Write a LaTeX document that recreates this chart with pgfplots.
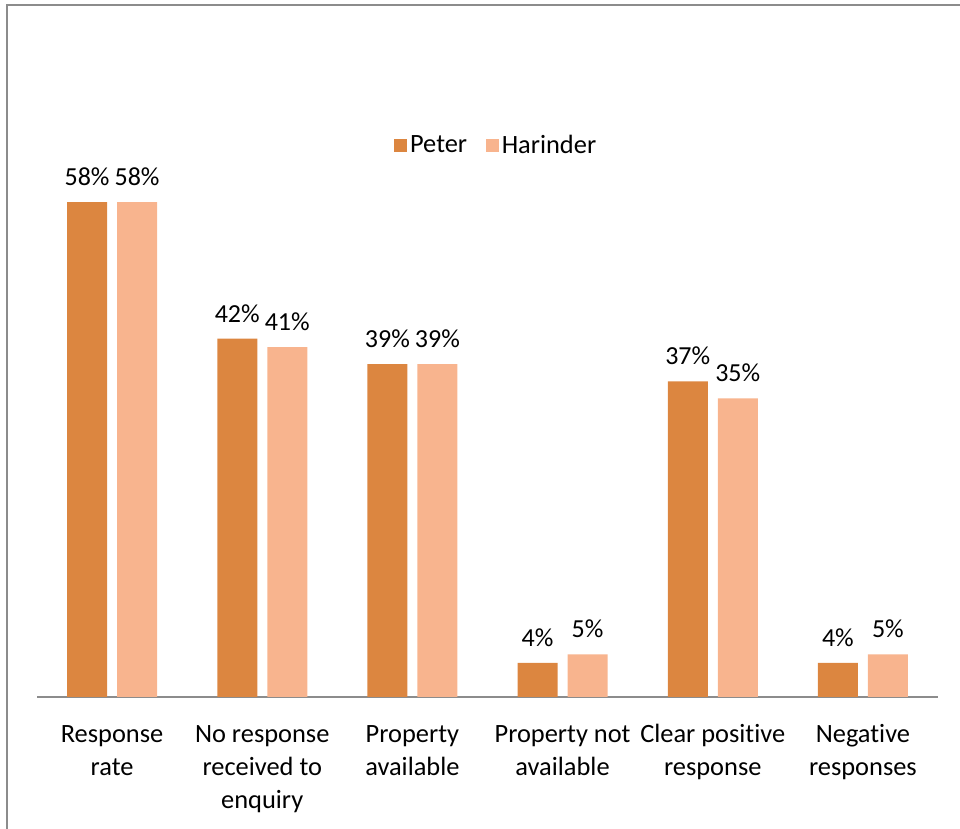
\documentclass[border=0pt]{standalone}
\usepackage{pgfplots}
\pgfplotsset{compat=1.18}
\usepackage{fontspec}
\setmainfont[Ligatures=NoCommon]{Carlito}
\definecolor{peter}{HTML}{DC8640}
\definecolor{harinder}{HTML}{F8B48E}
\definecolor{frame}{HTML}{8C8C8C}
\begin{document}
\begin{tikzpicture}[x=1pt,y=1pt]
\useasboundingbox (0,0) rectangle (720,621);
\draw[color=frame, line width=1.5pt] (5.25,-2) -- (5.25,617.25) -- (722,617.25);
\begin{axis}[
 at={(27.75pt,98.25pt)}, anchor=south west,
 scale only axis, width=675.75pt, height=504pt,
 xmin=-0.5, xmax=5.5, ymin=0, ymax=78.75,
 axis x line=bottom, axis y line=none,
 x axis line style={-, draw=frame, line width=1pt},
 xtick={0,...,5},
 xticklabels={\strut Response\\rate, \strut No response\\received to\\enquiry, \strut Property\\available, \strut Property not\\available, \strut Clear positive\\response, \strut Negative\\responses},
 xticklabel style={align=center, font=\fontsize{19.8}{24.75}\selectfont, yshift=-13pt},
 major tick length=0pt,
 ybar=7.5pt, bar width=30pt,
 /pgf/number format/assume math mode=true,
 nodes near coords={\pgfmathprintnumber[fixed,precision=0]{\pgfplotspointmeta}\%},
 every node near coord/.append style={font=\fontsize{19.5}{21}\selectfont, text=black, inner sep=4pt, yshift=8pt},
 legend columns=2,
 legend style={at={(0.51,0.821)}, anchor=center, draw=none, font=\fontsize{19.8}{21}\selectfont, /tikz/every even column/.append style={column sep=12pt}},
 legend image code/.code={\fill[#1] (0pt,-5pt) rectangle (10pt,5pt);},
]
\addplot[fill=peter, draw=none] coordinates {(0,58) (1,42) (2,39) (3,4) (4,37) (5,4)};
\addplot[fill=harinder, draw=none] coordinates {(0,58) (1,41) (2,39) (3,5) (4,35) (5,5)};
\legend{Peter, Harinder}
\end{axis}
\end{tikzpicture}
\end{document}
